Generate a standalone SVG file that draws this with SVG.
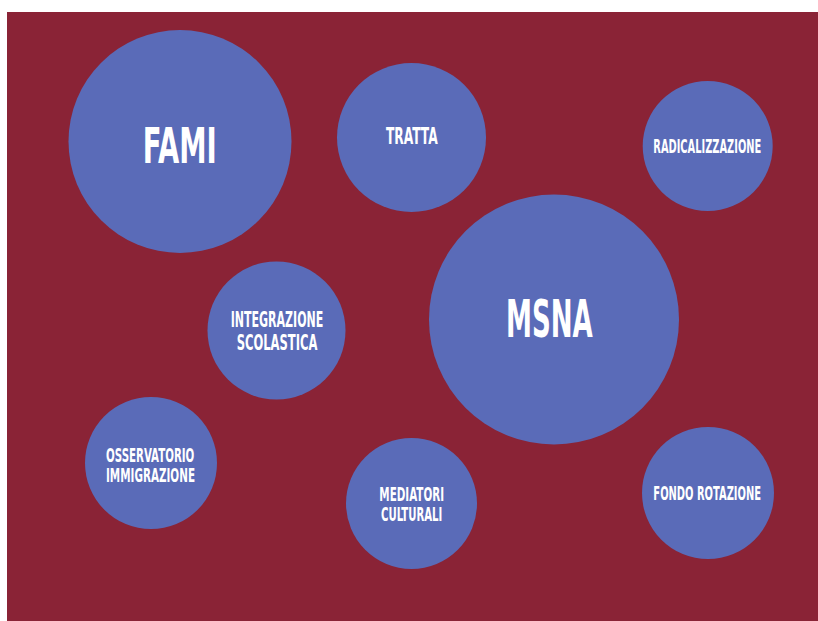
<svg xmlns="http://www.w3.org/2000/svg" width="818" height="621" viewBox="0 0 818 621">
<style>
.bubble{fill:#5A6BB8}
.lbl{fill:#FFFFFF;font-family:"Liberation Sans Narrow","DejaVu Sans Condensed","Liberation Sans",sans-serif;font-weight:bold;text-anchor:middle}
</style>
<rect x="0" y="0" width="818" height="621" fill="#FFFFFF"/>
<rect x="7" y="12" width="811" height="609" fill="#8A2336"/>
<g id="fami"><circle class="bubble" cx="180" cy="141.5" r="111.5"/><text class="lbl" x="179.7" y="162.7" font-size="49" textLength="74" lengthAdjust="spacingAndGlyphs">FAMI</text></g>
<g id="tratta"><circle class="bubble" cx="411.5" cy="137.5" r="74.5"/><text class="lbl" x="411.8" y="144.3" font-size="23.5" textLength="51.7" lengthAdjust="spacingAndGlyphs">TRATTA</text></g>
<g id="radicalizzazione"><circle class="bubble" cx="707.7" cy="146" r="65"/><text class="lbl" x="707.3" y="153.3" font-size="19.5" textLength="108" lengthAdjust="spacingAndGlyphs">RADICALIZZAZIONE</text></g>
<g id="msna"><circle class="bubble" cx="554" cy="319.5" r="125"/><text class="lbl" x="549.3" y="336.7" font-size="51" textLength="86.7" lengthAdjust="spacingAndGlyphs">MSNA</text></g>
<g id="integrazione"><circle class="bubble" cx="276.5" cy="330.5" r="69"/><text class="lbl" x="277" y="326.7" font-size="21.5" textLength="92.7" lengthAdjust="spacingAndGlyphs">INTEGRAZIONE</text><text class="lbl" x="277" y="350" font-size="21.5" textLength="80.7" lengthAdjust="spacingAndGlyphs">SCOLASTICA</text></g>
<g id="osservatorio"><circle class="bubble" cx="151" cy="463" r="66"/><text class="lbl" x="150.2" y="462.3" font-size="19.5" textLength="88.3" lengthAdjust="spacingAndGlyphs">OSSERVATORIO</text><text class="lbl" x="150.5" y="482.3" font-size="19.5" textLength="89" lengthAdjust="spacingAndGlyphs">IMMIGRAZIONE</text></g>
<g id="mediatori"><circle class="bubble" cx="411.5" cy="503.5" r="65.5"/><text class="lbl" x="411.7" y="500.7" font-size="19.5" textLength="64.7" lengthAdjust="spacingAndGlyphs">MEDIATORI</text><text class="lbl" x="411.7" y="520.7" font-size="19.5" textLength="61.3" lengthAdjust="spacingAndGlyphs">CULTURALI</text></g>
<g id="fondo"><circle class="bubble" cx="708" cy="493" r="66"/><text class="lbl" x="707.2" y="500" font-size="19.5" textLength="107.7" lengthAdjust="spacingAndGlyphs">FONDO ROTAZIONE</text></g>
<g id="connectors"/>
</svg>
